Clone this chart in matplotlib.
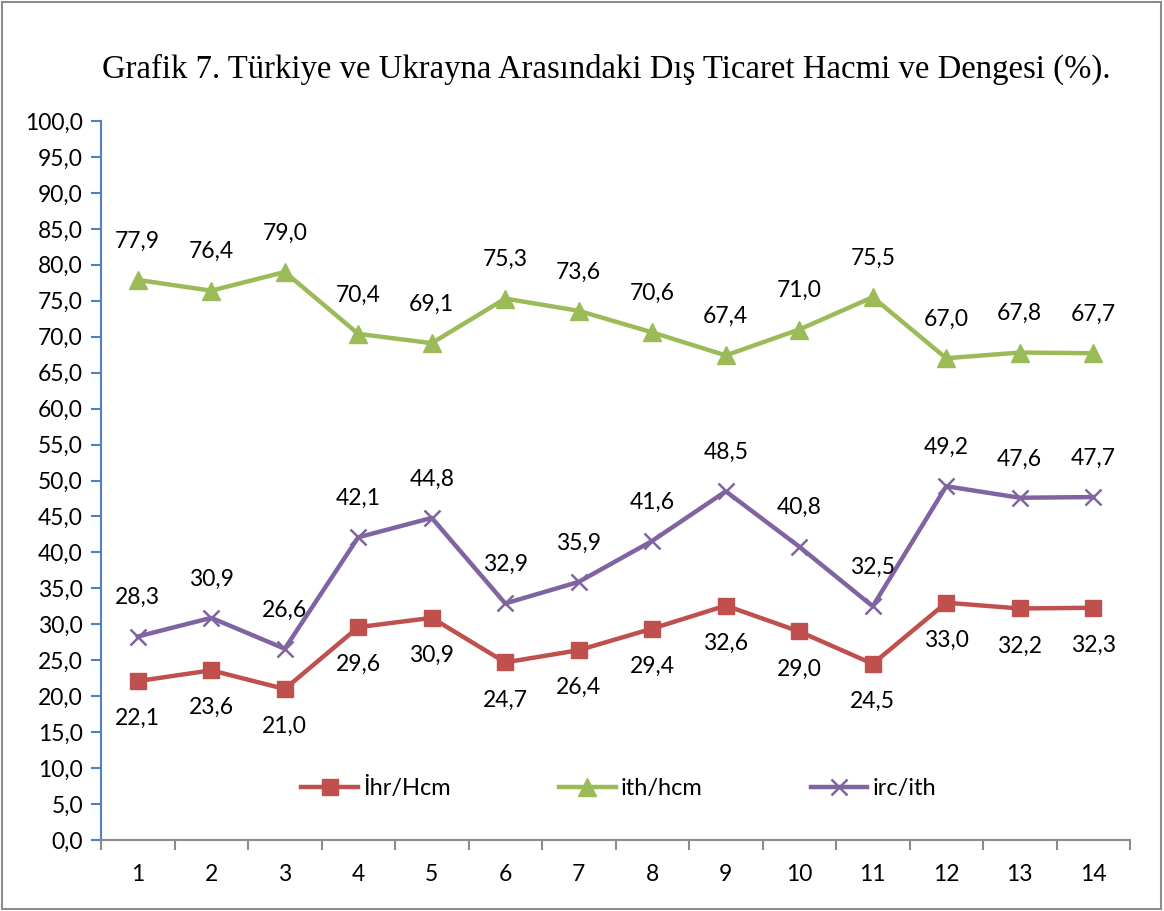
import matplotlib
matplotlib.use("Agg")
import matplotlib.pyplot as plt
from matplotlib.patches import Rectangle

categories = [str(i) for i in range(1, 15)]
ihr_hcm = [22.1, 23.6, 21.0, 29.6, 30.9, 24.7, 26.4, 29.4, 32.6, 29.0, 24.5, 33.0, 32.2, 32.3]
ith_hcm = [77.9, 76.4, 79.0, 70.4, 69.1, 75.3, 73.6, 70.6, 67.4, 71.0, 75.5, 67.0, 67.8, 67.7]
irc_ith = [28.3, 30.9, 26.6, 42.1, 44.8, 32.9, 35.9, 41.6, 48.5, 40.8, 32.5, 49.2, 47.6, 47.7]
series_names = ["İhr/Hcm", "ith/hcm", "irc/ith"]
title = "Grafik 7. Türkiye ve Ukrayna Arasındaki Dış Ticaret Hacmi ve Dengesi (%)."

W, H = 1164, 911
fig = plt.figure(figsize=(W / 100, H / 100), dpi=100)
fig.patch.set_facecolor("white")
fig.add_artist(Rectangle((2 / W, 1 - 909 / H), 1159 / W, 907 / H, transform=fig.transFigure,
                         fill=False, edgecolor="#8c8c8c", linewidth=1.5))

ax = fig.add_axes([101 / W, 1 - 840 / H, 1029 / W, 719 / H])
font = "Lato"
x = list(range(len(categories)))

red, green, purple = "#C0504D", "#9BBB59", "#8064A2"
ax.plot(x, ihr_hcm, color=red, lw=3.2, marker="s", ms=12, label=series_names[0], zorder=3)
ax.plot(x, ith_hcm, color=green, lw=3.2, marker="^", ms=13, label=series_names[1], zorder=3)
ax.plot(x, irc_ith, color=purple, lw=3.2, marker="x", ms=12, mew=1.8, label=series_names[2], zorder=3)

lab = dict(fontsize=16.5, family=font, ha="center", va="center", color="black")
for xi, v in zip(x, ihr_hcm):
    ax.annotate(f"{v:.1f}".replace(".", ","), (xi, v), xytext=(0, -27), textcoords="offset points", **lab)
for xi, v in zip(x, ith_hcm):
    ax.annotate(f"{v:.1f}".replace(".", ","), (xi, v), xytext=(0, 28), textcoords="offset points", **lab)
for xi, v in zip(x, irc_ith):
    ax.annotate(f"{v:.1f}".replace(".", ","), (xi, v), xytext=(0, 28), textcoords="offset points", **lab)

ax.set_xlim(-0.5, len(categories) - 0.5)
ax.set_ylim(0, 100)
ax.set_yticks([i * 5 for i in range(21)])
ax.set_yticklabels([f"{i * 5:.1f}".replace(".", ",") for i in range(21)], family=font, fontsize=16.5)
ax.set_xticks(x)
ax.set_xticklabels(categories, family=font, fontsize=16.5)
ax.set_xticks([i - 0.5 for i in range(len(categories) + 1)], minor=True)
ax.tick_params(axis="x", which="major", length=0, pad=17)
ax.tick_params(axis="x", which="minor", length=7, color="#8c8c8c", width=1.5)
ax.tick_params(axis="y", length=7, color="#4F81BD", width=1.5, pad=6)

for s in ["top", "right"]:
    ax.spines[s].set_visible(False)
ax.spines["left"].set_color("#4F81BD")
ax.spines["left"].set_linewidth(1.5)
ax.spines["bottom"].set_color("#8c8c8c")
ax.spines["bottom"].set_linewidth(1.5)

leg = ax.legend(loc="center", bbox_to_anchor=(0.503, 0.072), ncol=3, frameon=False,
                prop={"family": font, "size": 17}, columnspacing=4.6, handlelength=2.4,
                handletextpad=0.2)

fig.text(606.5 / W, 1 - 78 / H, title, family="Liberation Serif", fontsize=23.6,
         ha="center", va="baseline")

fig.savefig("out.png", dpi=100, facecolor="white")
